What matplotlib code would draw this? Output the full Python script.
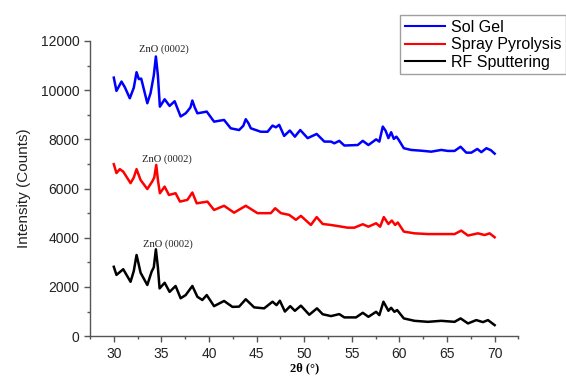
import matplotlib
matplotlib.use("Agg")
import matplotlib.pyplot as plt
from matplotlib.ticker import MultipleLocator

# 2theta (deg) and intensity (counts)
sol_gel_x = [30.0, 30.28, 30.81, 31.16, 31.68, 32.1, 32.39, 32.63, 32.88, 33.52, 33.86,
             34.2, 34.42, 34.63, 34.84, 35.34, 35.86, 36.39, 37.02, 37.55, 37.79, 38.05,
             38.25, 38.5, 38.78, 39.23, 39.76, 40.53, 41.58, 42.28, 43.16, 43.6, 43.86,
             44.15, 44.39, 45.44, 46.15, 46.67, 47.02, 47.37, 47.89, 48.49, 49.02, 49.58,
             50.36, 51.31, 52.11, 52.81, 53.16, 53.68, 54.21, 55.62, 56.15,
             56.74, 57.55, 57.89, 58.25, 58.55, 58.84, 59.13, 59.41, 59.68, 59.89,
             60.46, 61.23, 62.28, 63.34, 64.39, 65.09, 65.79, 66.42, 67.02,
             67.55, 68.18, 68.6, 69.13, 69.6, 70.0]
sol_gel_y = [10510, 9970, 10350, 10120, 9670, 10100, 10730, 10450, 10470, 9470, 9880,
             10600, 11370, 10600, 9330, 9630, 9360, 9550, 8930, 9060, 9170, 9300,
             9580, 9300, 9060, 9090, 9130, 8720, 8790, 8450, 8380, 8550, 8820,
             8650, 8450, 8310, 8310, 8560, 8490, 8590, 8140, 8360, 8110, 8380,
             8050, 8220, 7910, 7910, 7840, 7940, 7750, 7770, 7940,
             7770, 8000, 7910, 8520, 8350, 8050, 8290, 8020, 8110, 8000,
             7640, 7570, 7540, 7500, 7570, 7530, 7530, 7700, 7460,
             7460, 7610, 7480, 7640, 7560, 7420]

spray_x = [30.0, 30.28, 30.63, 30.99, 31.76, 32.1, 32.39, 32.81, 33.52, 34.04, 34.25,
           34.46, 34.65, 34.84, 35.34, 35.79, 36.49, 36.95, 37.73, 38.25, 38.71,
           39.83, 40.53, 41.58, 42.63, 43.86, 45.09, 46.49, 46.95, 47.55,
           48.42, 49.13, 49.65, 50.7, 51.31, 51.94, 52.81, 54.57, 55.26,
           56.15, 56.74, 57.55, 57.97, 58.36, 58.84, 59.2, 59.55, 59.83,
           60.46, 61.58, 62.99, 64.39, 65.79, 66.49, 67.2, 68.25, 68.95,
           69.47, 70.0]
spray_y = [6990, 6630, 6790, 6690, 6220, 6450, 6790, 6350, 5980, 6290, 6450,
           6960, 6300, 5810, 6080, 5740, 5810, 5470, 5540, 5840, 5400,
           5470, 5130, 5300, 5020, 5300, 5000, 5000, 5200, 5000,
           4930, 4730, 4890, 4520, 4840, 4560, 4520, 4410, 4410,
           4550, 4450, 4590, 4450, 4840, 4560, 4700, 4520, 4620,
           4250, 4180, 4150, 4150, 4150, 4290, 4090, 4180, 4110,
           4180, 4020]

rf_x = [30.0, 30.28, 30.99, 31.76, 32.1, 32.39, 32.6, 32.81, 33.52, 33.97, 34.2, 34.42,
        34.63, 34.81, 35.34, 35.86, 36.49, 37.02, 37.55, 38.25, 38.78, 39.3,
        39.76, 40.53, 41.58, 42.46, 43.16, 43.86, 44.74, 45.79, 46.67,
        47.09, 47.44, 47.97, 48.53, 49.02, 49.65, 50.53, 51.34, 51.94,
        52.81, 53.68, 54.21, 55.44, 56.15, 56.74, 57.55, 57.89, 58.32,
        58.84, 59.13, 59.47, 59.76, 60.46, 61.58, 62.99, 64.39, 65.79,
        66.42, 67.2, 68.07, 68.77, 69.3, 70.0]
rf_y = [2820, 2490, 2720, 2210, 2650, 3300, 2950, 2580, 2080, 2620, 2800, 3530,
        2800, 1940, 2170, 1800, 2040, 1540, 1670, 2040, 1600, 1470,
        1670, 1220, 1430, 1190, 1200, 1500, 1170, 1130, 1400,
        1260, 1440, 1000, 1220, 1030, 1240, 870, 1130, 890,
        815, 896, 762, 762, 949, 786, 990, 855, 1400,
        1031, 1153, 990, 1059, 721, 623, 582, 623, 582,
        721, 517, 652, 570, 652, 448]

peak_label = "ZnO (0002)"
label_x = [35.3, 35.55, 35.7]
label_y = [11650, 7200, 3750]

fig = plt.figure(figsize=(5.66, 3.76), dpi=100)
ax = fig.add_axes([0.159, 0.106, 0.757, 0.785])

ax.plot(sol_gel_x, sol_gel_y, color="#0000ff", lw=1.8, label="Sol Gel")
ax.plot(spray_x, spray_y, color="#ff0000", lw=1.8, label="Spray Pyrolysis")
ax.plot(rf_x, rf_y, color="black", lw=1.8, label="RF Sputtering")

for lx, ly in zip(label_x, label_y):
    ax.text(lx, ly, peak_label, ha="center", va="center", fontsize=7.6,
            family="Liberation Serif", color="#222222")

ax.set_xlim(27.5, 72.5)
ax.set_ylim(0, 12000)
ax.xaxis.set_major_locator(MultipleLocator(5))
ax.xaxis.set_minor_locator(MultipleLocator(2.5))
ax.yaxis.set_major_locator(MultipleLocator(2000))
ax.yaxis.set_minor_locator(MultipleLocator(1000))

ax.spines["top"].set_visible(False)
ax.spines["right"].set_visible(False)
for s in ["left", "bottom"]:
    ax.spines[s].set_color("#555555")
    ax.spines[s].set_linewidth(1.0)
ax.tick_params(which="major", length=4, width=1, color="#555555",
               labelsize=10, labelcolor="#222222")
ax.tick_params(which="minor", length=2.5, width=1, color="#555555")
for lab in ax.get_xticklabels() + ax.get_yticklabels():
    lab.set_family("Liberation Sans")

ax.set_ylabel("Intensity (Counts)", family="Liberation Sans", fontsize=11,
              color="#222222", labelpad=7)
ax.set_xlabel("2θ (°)", family="Liberation Serif", fontweight="bold", fontsize=9,
              labelpad=1)

leg = fig.legend(loc="upper left", bbox_to_anchor=(400 / 566, 1 - 15 / 376),
                 borderaxespad=0, fancybox=False, frameon=True,
                 prop={"family": "Liberation Sans", "size": 11.5},
                 handlelength=2.5, handletextpad=0.4, labelspacing=0.15,
                 borderpad=0.3)
leg.get_frame().set_edgecolor("#888888")
leg.get_frame().set_linewidth(1.0)
for line in leg.get_lines():
    line.set_linewidth(1.5)

fig.savefig("out.png", dpi=100)
